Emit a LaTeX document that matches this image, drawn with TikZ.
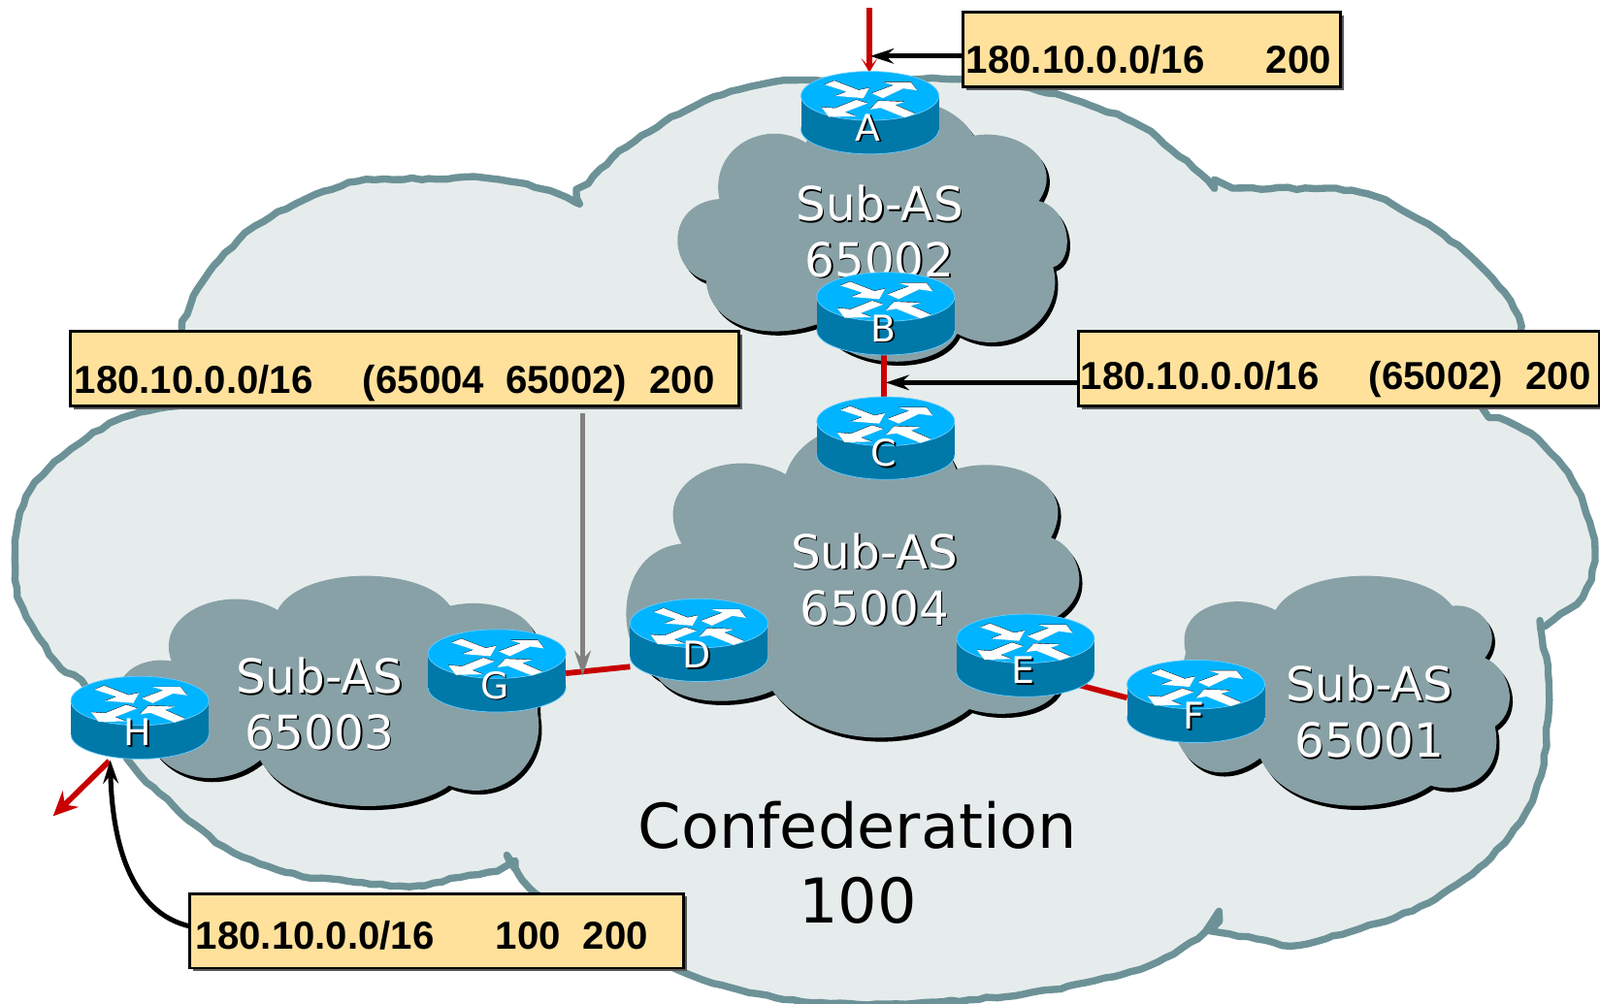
\documentclass[tikz,border=0pt]{standalone}
\usepackage{fontspec}
\setmainfont{Liberation Sans}
\newfontfamily\dejavu{DejaVu Sans}
\usetikzlibrary{arrows.meta,decorations.pathmorphing,shadows}
\definecolor{confline}{HTML}{6C9297}
\definecolor{conffill}{HTML}{E6ECEC}
\definecolor{subfill}{HTML}{88A1A6}
\definecolor{noteyellow}{HTML}{FFE19C}
\definecolor{linkred}{HTML}{C80000}
\definecolor{rtop}{HTML}{00B4FF}
\definecolor{rside}{HTML}{0078A8}
\definecolor{redge}{HTML}{66CCFF}
\definecolor{greyarrow}{HTML}{808080}
\pgfdeclarelayer{below}
\pgfsetlayers{below,main}
\newcommand\shtxt[1]{\leavevmode\rlap{\kern1.5pt\raisebox{-1.5pt}{\color{black}#1}}{\color{white}#1}}
\newcommand\notetext[3]{\hbox to #1pt{\hspace{#2pt}#3\hfil}}
\newcommand\gap[1]{\hspace*{#1pt}}
\newcommand\routerAt[4]{%
  \begin{scope}[shift={(#2,#3+24)}]
    \filldraw[fill=rside,draw=redge,line width=.7pt] (0,33) ellipse [x radius=67.5,y radius=24];
    \fill[rside] (-67.5,0) rectangle (67.5,33);
    \filldraw[fill=rtop,draw=redge,line width=.7pt] (0,0) ellipse [x radius=67.5,y radius=24];
    \begin{scope}[scale=.317]
      \foreach \col/\dy in {black/1.2,white/0}{
        \fill[\col,yshift=\dy pt] (-140,-35)--(-110,-47)--(-35,-18)--(-2,-25)--(-20,7)--(-107,0)--(-72,-13)--cycle;
        \fill[\col,yshift=\dy pt] (6,-8)--(73,-33)--(40,-43)--(126,-43)--(146,-17)--(103,-23)--(40,7)--cycle;
        \fill[\col,yshift=\dy pt] (-42,12)--(-107,38)--(-150,35)--(-127,65)--(-42,63)--(-77,50)--(-7,23)--cycle;
        \fill[\col,yshift=\dy pt] (0,42)--(26,15)--(108,18)--(78,28)--(140,55)--(108,67)--(33,37)--cycle;
      }
    \end{scope}
  \end{scope}
  \node[routerlabel] (#1) at (#2,#3+40.5) {\kern-4pt\shtxt{#4}};
}
\def\confpath{
  plot[smooth,tension=.55] coordinates {(178,325)(190,290)(215,255)(250,222)(300,195)(350,178)(420,175)(480,175)(530,185)(568,200)}
  -- plot[smooth,tension=.55] coordinates {(565,194)(600,155)(650,120)(700,95)(760,80)(850,78)(945,78)(1000,85)(1060,100)(1120,125)(1170,165)(1190,185)}
  -- plot[smooth,tension=.55] coordinates {(1190,185)(1290,185)(1340,190)(1400,220)(1450,260)(1480,295)(1490,325)(1480,370)(1455,400)(1500,425)(1540,470)(1560,520)(1562,550)(1550,585)(1510,615)}
  -- plot[smooth,tension=.55] coordinates {(1510,618)(1517,660)(1517,705)(1510,760)(1490,805)(1450,850)(1400,885)(1350,905)(1300,920)(1265,927)(1240,922)(1183,912)}
  -- plot[smooth,tension=.55] coordinates {(1195,903)(1150,935)(1100,955)(1030,970)(950,980)(850,985)(760,978)(680,957)(600,920)(525,876)(497,838)}
  -- plot[smooth,tension=.55] coordinates {(505,852)(460,858)(410,868)(350,865)(280,855)(220,830)(170,790)(130,750)(85,675)(60,655)(35,620)(18,585)(15,530)(30,480)(70,440)(120,410)(175,398)}
  -- cycle}
\def\cloudone{(1250,598) .. controls (1275,554) and (1395,554) .. (1423,594)
  .. controls (1450,590) and (1475,620) .. (1455,645)
  .. controls (1480,655) and (1490,695) .. (1465,712)
  .. controls (1475,760) and (1435,780) .. (1402,770)
  .. controls (1360,800) and (1260,800) .. (1235,743)
  .. controls (1200,770) and (1155,760) .. (1147,700)
  -- (1162,640) .. controls (1150,590) and (1215,580) .. (1250,598) -- cycle}
\def\cloudtwo{(705,195) .. controls (695,145) and (750,115) .. (790,140)
  .. controls (805,85) and (925,80) .. (954,133)
  .. controls (1000,125) and (1044,160) .. (1018,197)
  .. controls (1050,205) and (1054,255) .. (1032,262)
  .. controls (1045,310) and (990,355) .. (938,327)
  .. controls (920,365) and (830,365) .. (800,318)
  .. controls (750,335) and (695,320) .. (692,275)
  .. controls (655,265) and (650,200) .. (705,195) -- cycle}
\def\cloudthree{(272,598) .. controls (295,554) and (415,554) .. (441,594)
  .. controls (480,585) and (520,600) .. (525,625)
  -- (527,700) .. controls (535,745) and (495,790) .. (440,770)
  .. controls (400,800) and (285,800) .. (255,745)
  .. controls (225,770) and (175,770) .. (150,735)
  -- (120,665) .. controls (130,650) and (150,645) .. (168,648)
  .. controls (150,600) and (225,570) .. (272,598) -- cycle}
\def\cloudfour{(770,465) .. controls (790,400) and (915,395) .. (937,460)
  .. controls (985,445) and (1060,470) .. (1030,527)
  .. controls (1055,535) and (1075,580) .. (1035,605)
  -- (1040,670) .. controls (1030,700) and (980,705) .. (950,695)
  .. controls (900,735) and (800,735) .. (757,677)
  .. controls (730,690) and (670,695) .. (645,665)
  .. controls (600,640) and (600,540) .. (668,533)
  .. controls (632,470) and (718,435) .. (770,465) -- cycle}
\tikzset{
  confcloud/.style={fill=conffill,draw=confline,line width=7pt,line join=round,line cap=round,
     decorate,decoration={random steps,segment length=9pt,amplitude=1.1pt}},
  subcloud/.style={fill=subfill},
  subshadow/.style={fill=black,xshift=3pt,yshift=-4pt},
  subtext/.style={font=\dejavu\fontsize{46}{55}\selectfont,align=center,inner sep=0pt},
  conftext/.style={font=\dejavu\fontsize{60.6}{74}\selectfont,align=center,inner sep=0pt,text=black},
  routerlabel/.style={font=\dejavu\fontsize{36}{36}\selectfont,inner sep=0pt,outer sep=0pt,
     minimum width=135pt,text height=68pt,text depth=13pt},
  notebox/.style={draw=black,fill=noteyellow,line width=2.7pt,anchor=north west,inner sep=0pt,outer sep=0pt,
     font=\bfseries\fontsize{38.2}{38}\selectfont,text=black,
     general shadow={shadow xshift=3pt,shadow yshift=-3pt,fill=black!65,draw=none}},
  redlink/.style={draw=linkred,line width=5.5pt},
  blackarrow/.style={draw=black,line width=4.8pt,-{Stealth[length=23pt,width=15pt,inset=8pt]}},
  greyline/.style={draw=greyarrow,line width=5pt,-{Stealth[length=24pt,width=16pt,inset=8pt]}},
}
\begin{document}
\begin{tikzpicture}[x=1pt,y=-1pt]
\useasboundingbox (0,0) rectangle (1568,984);
\begin{pgfonlayer}{below}
  \path[confcloud] \confpath;
  \foreach \c in {\cloudone,\cloudtwo,\cloudthree,\cloudfour}{
    \path[subshadow] \c;
    \path[subcloud] \c;
  }
  \node[subtext] (t2) at (862,227.5) {\shtxt{Sub-AS}\\\shtxt{65002}};
  \node[subtext] (t4) at (857,568.5) {\shtxt{Sub-AS}\\\shtxt{65004}};
  \node[subtext] (t3) at (313,690.5) {\shtxt{Sub-AS}\\\shtxt{65003}};
  \node[subtext] (t1) at (1342,698.5) {\shtxt{Sub-AS}\\\shtxt{65001}};
  \node[conftext] (conf) at (840.5,845.5) {Confederation\\100};
\end{pgfonlayer}
\routerAt{A}{852.5}{70}{A}
\routerAt{B}{868}{267}{B}
\routerAt{C}{868}{389}{C}
\routerAt{D}{685}{587}{D}
\routerAt{E}{1005}{602}{E}
\routerAt{F}{1172}{647}{F}
\routerAt{G}{487}{617}{G}
\routerAt{H}{137}{663}{H}
\coordinate (ain) at (852,8);
\coordinate (hout) at (52,800);
\coordinate (gtip) at (571,662);
\coordinate (atip) at (853,55);
\coordinate (ctip) at (868,375);
\begin{pgfonlayer}{below}
  \draw[redlink,-{Stealth[length=14pt,width=16pt,inset=9pt]}] (ain) -- ([xshift=-.5pt,yshift=-1pt]A.north);
  \draw[redlink] ([xshift=-2pt]B.south) -- ([xshift=-2pt]C.north);
  \draw[redlink] ([yshift=-2.5pt]G.east) -- ([yshift=-26pt]D.west);
  \draw[redlink] ([xshift=-15pt,yshift=-29pt]E.east) -- ([yshift=3.5pt]F.west);
  \draw[redlink,-{Stealth[length=24pt,width=22pt,inset=8pt]}] ([xshift=-30pt,yshift=-2pt]H.south) -- (hout);
\end{pgfonlayer}
\node[notebox,text height=60pt,text depth=13pt] (n1) at (944,12) {\notetext{370}{3}{180.10.0.0/16\gap{60}200}};
\node[notebox,text height=61pt,text depth=12pt] (n2) at (69,325) {\notetext{655}{4}{180.10.0.0/16\gap{49}(65004\gap{21}65002)\gap{22}200}};
\node[notebox,text height=57pt,text depth=16pt] (n3) at (1057,325) {\notetext{510}{2}{180.10.0.0/16\gap{49}(65002)\gap{22}200}};
\node[notebox,text height=54pt,text depth=19pt] (n4) at (186,876) {\notetext{484}{6}{180.10.0.0/16\gap{60}100\gap{22}200}};
\draw[blackarrow] ([yshift=-6.5pt]n1.west) -- (atip);
\draw[blackarrow] ([yshift=-13.5pt]n3.west) -- (ctip);
\draw[greyline] ([xshift=174.5pt,yshift=-7pt]n2.south) -- (gtip);
\draw[blackarrow] ([yshift=4.5pt]n4.west) .. controls (130,895) and (110,830) .. ([xshift=-29pt,yshift=-1pt]H.south);
\end{tikzpicture}
\end{document}
